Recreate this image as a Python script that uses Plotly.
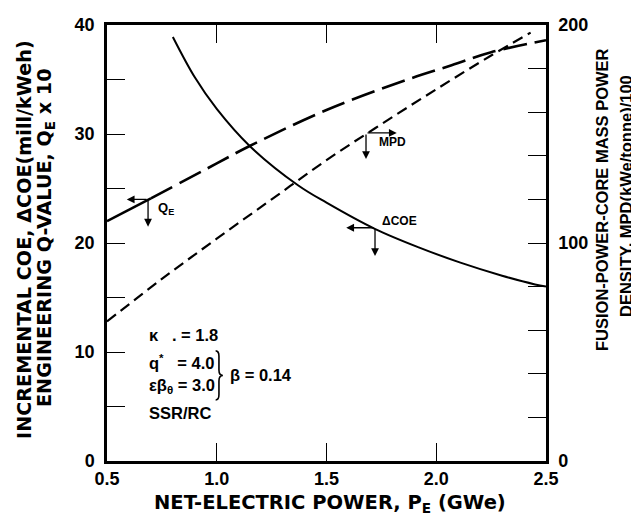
import plotly.graph_objects as go

# ---- data ----
pe_coe = [0.80, 0.90, 1.00, 1.15, 1.37, 1.50, 1.72, 1.92, 2.11, 2.30, 2.45, 2.50]
coe = [38.9, 35.2, 32.3, 28.9, 25.3, 23.7, 21.3, 19.6, 18.2, 17.0, 16.2, 16.0]

pe_q = [0.50, 0.70, 1.00, 1.15, 1.50, 1.87, 2.07, 2.25, 2.50]
qe10 = [22.0, 24.1, 27.3, 28.9, 32.2, 35.0, 36.3, 37.5, 38.6]

pe_mpd = [0.50, 0.75, 1.00, 1.25, 1.50, 1.75, 2.00, 2.25, 2.43]
mpd = [64, 83.5, 102, 120, 138, 154.5, 170.5, 186, 196.5]

x_ticks = [0.5, 1.0, 1.5, 2.0, 2.5]
x_ticktext = ["0.5", "1.0", "1.5", "2.0", "2.5"]
yl_ticks = [0, 5, 10, 15, 20, 25, 30, 35, 40]
yl_ticktext = ["0", "", "10", "", "20", "", "30", "", "40"]
yr_ticks = [0, 20, 40, 60, 80, 100, 120, 140, 160, 180, 200]
yr_ticktext = ["0", "", "", "", "", "100", "", "", "", "", "200"]

FONT = "Liberation Sans, Arial, Helvetica, sans-serif"
WIDE = "DejaVu Sans, Verdana, sans-serif"
W, H = 639, 516
L, R, T, B = 99, 101, 17, 63
PW, PH = W - L - R, H - T - B


def px_to_paper(px, py):
    return (px - L) / PW, (H - B - py) / PH


fig = go.Figure()

# Delta COE (solid)
fig.add_trace(go.Scatter(x=pe_coe, y=coe, mode="lines", line=dict(color="black", width=2),
                         line_shape="spline", showlegend=False))
# Q_E x 10 : solid start, long-dash afterwards
fig.add_trace(go.Scatter(x=pe_q[:2], y=qe10[:2], mode="lines",
                         line=dict(color="black", width=2.6), showlegend=False))
fig.add_trace(go.Scatter(x=pe_q[1:], y=qe10[1:], mode="lines", line_shape="spline",
                         line=dict(color="black", width=2.6, dash="24px,8px"), showlegend=False))
# MPD (short dash, right axis)
fig.add_trace(go.Scatter(x=pe_mpd, y=mpd, mode="lines", yaxis="y2", line_shape="spline",
                         line=dict(color="black", width=2.2, dash="11px,6px"), showlegend=False))

anns = []


def arrow(hx, hy, tx, ty):
    anns.append(dict(x=hx, y=hy, ax=tx, ay=ty, xref="x", yref="y", axref="x", ayref="y",
                     text="", showarrow=True, arrowhead=2, arrowsize=1.2, arrowwidth=1.3,
                     arrowcolor="black", standoff=0, startstandoff=0))


# Q_E arrows
arrow(0.59, 24.0, 0.687, 24.0)
arrow(0.687, 21.5, 0.687, 24.0)
# MPD arrows
arrow(1.82, 30.1, 1.68, 30.1)
arrow(1.68, 27.7, 1.68, 30.1)
# Delta COE arrows
arrow(1.59, 21.4, 1.721, 21.4)
arrow(1.721, 18.8, 1.721, 21.4)


def label(text, x, y, size=13, xanchor="left", family=FONT, weight="bold", xref="x", yref="y", angle=0):
    anns.append(dict(text=text, x=x, y=y, xref=xref, yref=yref, showarrow=False,
                     xanchor=xanchor, yanchor="middle", textangle=angle,
                     font=dict(family=family, size=size, color="black", weight=weight)))


label("Q<sub>E</sub>", 0.722, 23.2, size=13)
label("MPD", 1.730, 29.3, size=12)
label("\u0394COE", 1.745, 22.0, size=12)

NB = "\u00a0"
label("\u03ba" + NB * 3 + "." + NB + "= 1.8", 0.684, 11.55, size=16.5)
label("q<sup>*</sup>" + NB * 3 + "= 4.0", 0.684, 9.1, size=16.5)
label("\u03b5\u03b2<sub>\u03b8</sub>" + NB + "= 3.0", 0.684, 6.85, size=16.5)
label("SSR/RC", 0.684, 4.45, size=16.5)
label("\u03b2 = 0.14", 1.052, 7.9, size=16.5)

# axis titles
x1, y1 = px_to_paper(16, 232)
label("INCREMENTAL COE, \u0394COE(mill/kWeh)", x1, y1, size=19.2, xanchor="center",
      family=WIDE, xref="paper", yref="paper", angle=-90)
x2, y2 = px_to_paper(37, 230)
label("ENGINEERING Q-VALUE, Q<sub>E</sub> x 10", x2, y2, size=19.2, xanchor="center",
      family=WIDE, xref="paper", yref="paper", angle=-90)
x3, y3 = px_to_paper(594, 192)
label("FUSION-POWER-CORE MASS POWER", x3, y3, size=16.5, xanchor="center",
      xref="paper", yref="paper", angle=-90)
x4, y4 = px_to_paper(618, 188)
label("DENSITY, MPD(kWe/tonne)/100", x4, y4, size=16.5, xanchor="center",
      xref="paper", yref="paper", angle=-90)
x5, y5 = px_to_paper(322, 496)
label("NET-ELECTRIC POWER, P<sub>E</sub> (GWe)", x5, y5, size=19.5, xanchor="center",
      family=WIDE, xref="paper", yref="paper")

# curly brace grouping q* and eps*beta_theta
bx0, bx1, bx2 = 0.995, 1.01, 1.028
byt, bym, byb = 10.1, 7.85, 5.6
brace = (f"M {bx0},{byt} Q {bx1},{byt} {bx1},{byt - 0.5} L {bx1},{bym + 0.5} "
         f"Q {bx1},{bym} {bx2},{bym} Q {bx1},{bym} {bx1},{bym - 0.5} "
         f"L {bx1},{byb + 0.5} Q {bx1},{byb} {bx0},{byb}")

axis_common = dict(showgrid=False, zeroline=False, showline=True, linecolor="black",
                   linewidth=2.5, ticks="inside", ticklen=18, tickwidth=1.3, tickcolor="black",
                   tickfont=dict(family=FONT, size=18, color="black", weight="bold"),
                   automargin=False)

fig.update_layout(
    width=W, height=H, autosize=False,
    margin=dict(l=L, r=R, t=T, b=B),
    paper_bgcolor="white", plot_bgcolor="white",
    showlegend=False,
    xaxis=dict(range=[0.5, 2.5], tickvals=x_ticks, ticktext=x_ticktext, mirror="ticks",
               ticklabelstandoff=0, **axis_common),
    yaxis=dict(range=[0, 40], tickvals=yl_ticks, ticktext=yl_ticktext, mirror=True,
               ticklabelstandoff=6, **axis_common),
    yaxis2=dict(range=[0, 200], tickvals=yr_ticks, ticktext=yr_ticktext, overlaying="y",
                side="right", ticklabelstandoff=6, **axis_common),
    annotations=anns,
    shapes=[dict(type="path", path=brace, xref="x", yref="y",
                 line=dict(color="black", width=1.6))],
)

fig.write_html("out.html")
